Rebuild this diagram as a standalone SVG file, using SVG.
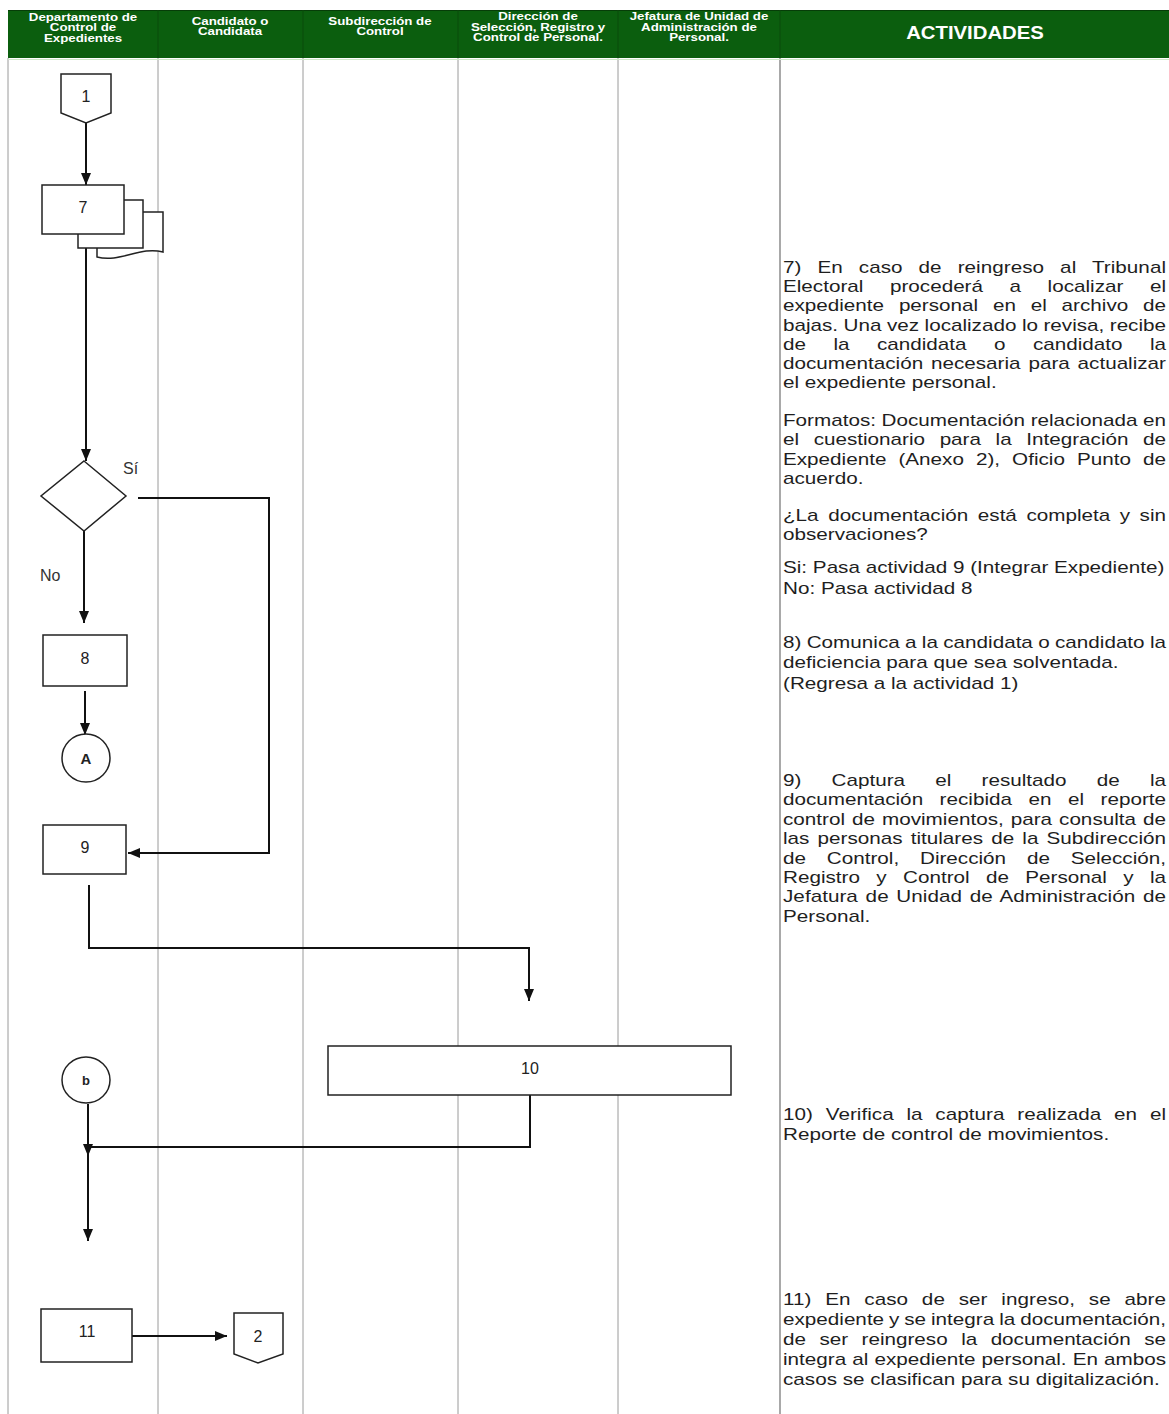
<svg xmlns="http://www.w3.org/2000/svg" width="1169" height="1414" viewBox="0 0 1169 1414">
<style>
.lane{stroke:#9a9a9a;stroke-width:1;fill:none}
.lane2{stroke:#7a7a7a;stroke-width:1.3;fill:none}
.node{fill:#fff;stroke:#222;stroke-width:1.5}
.lbl{font-family:"Liberation Sans",Arial,sans-serif;font-size:16px;fill:#222;text-anchor:middle}
.hd{font-family:"Liberation Sans",Arial,sans-serif;font-weight:bold;font-size:10.8px;fill:#fff;text-anchor:middle}
.act text{font-family:"Liberation Sans",Arial,sans-serif;font-size:16.8px;fill:#1e1e1e}
.conn{fill:none;stroke:#111;stroke-width:2}
.yn{font-family:"Liberation Sans",Arial,sans-serif;font-size:16px;fill:#333}
</style>
<defs>
<marker id="ah" viewBox="0 0 12 10" markerWidth="12" markerHeight="10" refX="12" refY="5" orient="auto" markerUnits="userSpaceOnUse">
<path d="M0,0 L12,5 L0,10 Z" fill="#111"/>
</marker>
</defs>
<rect width="1169" height="1414" fill="#fff"/>

<g id="header">
<rect x="8" y="10" width="1161" height="48" fill="#0b5e0e"/>
<line x1="8" y1="10.5" x2="1169" y2="10.5" stroke="#063d08" stroke-width="1"/>
<g stroke="#0a4a0b" stroke-width="1">
<line x1="158" y1="10" x2="158" y2="58"/><line x1="303" y1="10" x2="303" y2="58"/><line x1="458" y1="10" x2="458" y2="58"/><line x1="618" y1="10" x2="618" y2="58"/><line x1="780" y1="10" x2="780" y2="58"/>
</g>
<text class="hd" transform="translate(83 0) scale(1.23 1)"><tspan x="0" y="21">Departamento de</tspan><tspan x="0" y="31.5">Control de</tspan><tspan x="0" y="42">Expedientes</tspan></text>
<text class="hd" transform="translate(230 0) scale(1.23 1)"><tspan x="0" y="25">Candidato o</tspan><tspan x="0" y="35.5">Candidata</tspan></text>
<text class="hd" transform="translate(380 0) scale(1.23 1)"><tspan x="0" y="25">Subdirección de</tspan><tspan x="0" y="35.5">Control</tspan></text>
<text class="hd" transform="translate(538 0) scale(1.23 1)"><tspan x="0" y="20.5">Dirección de</tspan><tspan x="0" y="31">Selección, Registro y</tspan><tspan x="0" y="41.5">Control de Personal.</tspan></text>
<text class="hd" transform="translate(699 0) scale(1.23 1)"><tspan x="0" y="20.5">Jefatura de Unidad de</tspan><tspan x="0" y="31">Administración de</tspan><tspan x="0" y="41.5">Personal.</tspan></text>
<text class="hd" transform="translate(975 0) scale(1.13 1)" x="0" y="39" style="font-size:18px">ACTIVIDADES</text>
</g>

<g id="lanes">
<line class="lane" x1="8" y1="58" x2="8" y2="1414"/>
<line class="lane" x1="158" y1="58" x2="158" y2="1414"/>
<line class="lane" x1="303" y1="58" x2="303" y2="1414"/>
<line class="lane" x1="458" y1="58" x2="458" y2="1414"/>
<line class="lane" x1="618" y1="58" x2="618" y2="1414"/>
<line class="lane2" x1="780" y1="58" x2="780" y2="1414"/>
<line x1="8" y1="59.5" x2="1169" y2="59.5" stroke="#cfe8c8" stroke-width="1"/>
</g>

<g id="connectors">
<path class="conn" d="M86,123 V185" marker-end="url(#ah)"/>
<path class="conn" d="M86,248 V461" marker-end="url(#ah)"/>
<path class="conn" d="M84,531 V623" marker-end="url(#ah)"/>
<path class="conn" d="M138,498 H269 V853 H128" marker-end="url(#ah)"/>
<path class="conn" d="M85,691 V735" marker-end="url(#ah)"/>
<path class="conn" d="M89,885 V948 H529 V1001" marker-end="url(#ah)"/>
<path class="conn" d="M88,1104 V1241" marker-end="url(#ah)"/>
<path class="conn" d="M530,1095 V1147 H88"/>
<path d="M83,1144 L93,1144 L88,1156 Z" fill="#111"/>
<path class="conn" d="M132,1336 H227" marker-end="url(#ah)"/>
</g>

<g id="n1">
<polygon class="node" points="61,74 111,74 111,113 86,123 61,113"/>
<text class="lbl" x="86" y="102">1</text>
</g>
<g id="n7">
<path class="node" d="M97,212 H163 V252 C140,246 120,263 97,257 Z"/>
<rect class="node" x="78" y="200" width="65" height="48"/>
<rect class="node" x="42" y="185" width="82" height="49"/>
<text class="lbl" x="83" y="213">7</text>
</g>
<g id="decision">
<polygon class="node" points="84,461 126,496 84,531 41,496"/>
<text class="yn" x="123" y="474">Sí</text>
<text class="yn" x="40" y="581">No</text>
</g>
<g id="n8">
<rect class="node" x="43" y="635" width="84" height="51"/>
<text class="lbl" x="85" y="664">8</text>
</g>
<g id="cA">
<circle class="node" cx="86" cy="758" r="24"/>
<text class="lbl" x="86" y="764" style="font-weight:bold;font-size:15px">A</text>
</g>
<g id="n9">
<rect class="node" x="43" y="825" width="83" height="49"/>
<text class="lbl" x="85" y="853">9</text>
</g>
<g id="n10">
<rect class="node" x="328" y="1046" width="403" height="49"/>
<text class="lbl" x="530" y="1074">10</text>
</g>
<g id="cb">
<ellipse class="node" cx="86" cy="1080" rx="24" ry="23"/>
<text class="lbl" x="86" y="1085" style="font-weight:bold;font-size:13px">b</text>
</g>
<g id="n11">
<rect class="node" x="41" y="1309" width="91" height="53"/>
<text class="lbl" x="87" y="1337">11</text>
</g>
<g id="n2">
<polygon class="node" points="234,1313 283,1313 283,1354 258,1363 234,1354"/>
<text class="lbl" x="258" y="1342">2</text>
</g>

<g id="actividades" class="act" transform="translate(783 0) scale(1.23 1)">
<text x="0" y="273" word-spacing="8.33" textLength="311.4" lengthAdjust="spacing">7) En caso de reingreso al Tribunal</text>
<text x="0" y="292" word-spacing="16.9" textLength="311.4" lengthAdjust="spacing">Electoral procederá a localizar el</text>
<text x="0" y="311" word-spacing="7.38" textLength="311.4" lengthAdjust="spacing">expediente personal en el archivo de</text>
<text x="0" y="331" word-spacing="-0.2" textLength="311.4" lengthAdjust="spacing">bajas. Una vez localizado lo revisa, recibe</text>
<text x="0" y="350" word-spacing="17.64" textLength="311.4" lengthAdjust="spacing">de la candidata o candidato la</text>
<text x="0" y="369" word-spacing="1.7" textLength="311.4" lengthAdjust="spacing">documentación necesaria para actualizar</text>
<text x="0" y="388">el expediente personal.</text>
<text x="0" y="426" word-spacing="-0.17" textLength="311.4" lengthAdjust="spacing">Formatos: Documentación relacionada en</text>
<text x="0" y="445" word-spacing="7.18" textLength="311.4" lengthAdjust="spacing">el cuestionario para la Integración de</text>
<text x="0" y="465" word-spacing="5.12" textLength="311.4" lengthAdjust="spacing">Expediente (Anexo 2), Oficio Punto de</text>
<text x="0" y="484">acuerdo.</text>
<text x="0" y="521" word-spacing="3.08" textLength="311.4" lengthAdjust="spacing">¿La documentación está completa y sin</text>
<text x="0" y="540">observaciones?</text>
<text x="0" y="573">Si: Pasa actividad 9 (Integrar Expediente)</text>
<text x="0" y="594">No: Pasa actividad 8</text>
<text x="0" y="648" word-spacing="-0.34" textLength="311.4" lengthAdjust="spacing">8) Comunica a la candidata o candidato la</text>
<text x="0" y="668">deficiencia para que sea solventada.</text>
<text x="0" y="689">(Regresa a la actividad 1)</text>
<text x="0" y="786" word-spacing="19.88" textLength="311.4" lengthAdjust="spacing">9) Captura el resultado de la</text>
<text x="0" y="805" word-spacing="8.75" textLength="311.4" lengthAdjust="spacing">documentación recibida en el reporte</text>
<text x="0" y="825" word-spacing="1.02" textLength="311.4" lengthAdjust="spacing">control de movimientos, para consulta de</text>
<text x="0" y="844" word-spacing="1.96" textLength="311.4" lengthAdjust="spacing">las personas titulares de la Subdirección</text>
<text x="0" y="864" word-spacing="12.25" textLength="311.4" lengthAdjust="spacing">de Control, Dirección de Selección,</text>
<text x="0" y="883" word-spacing="8.63" textLength="311.4" lengthAdjust="spacing">Registro y Control de Personal y la</text>
<text x="0" y="902" word-spacing="1.58" textLength="311.4" lengthAdjust="spacing">Jefatura de Unidad de Administración de</text>
<text x="0" y="922">Personal.</text>
<text x="0" y="1120" word-spacing="5.68" textLength="311.4" lengthAdjust="spacing">10) Verifica la captura realizada en el</text>
<text x="0" y="1140">Reporte de control de movimientos.</text>
<text x="0" y="1305" word-spacing="6.47" textLength="311.4" lengthAdjust="spacing">11) En caso de ser ingreso, se abre</text>
<text x="0" y="1325" word-spacing="-0.66" textLength="311.4" lengthAdjust="spacing">expediente y se integra la documentación,</text>
<text x="0" y="1345" word-spacing="6.26" textLength="311.4" lengthAdjust="spacing">de ser reingreso la documentación se</text>
<text x="0" y="1365" word-spacing="0.28" textLength="311.4" lengthAdjust="spacing">integra al expediente personal. En ambos</text>
<text x="0" y="1385">casos se clasifican para su digitalización.</text>
</g>
</svg>
